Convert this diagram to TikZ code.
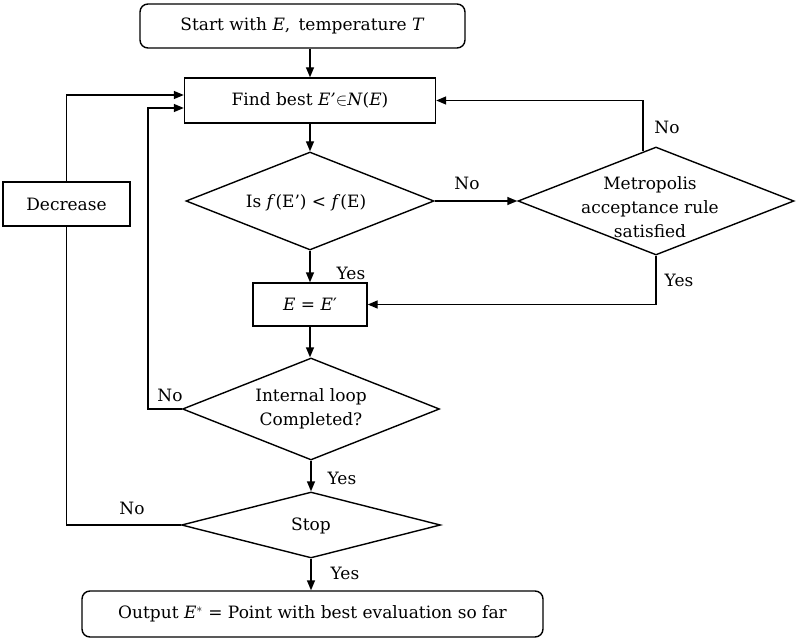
\documentclass[tikz,border=0pt]{standalone}
\usepackage{fontspec}
\setmainfont{DejaVu Serif}
\usetikzlibrary{shapes.geometric,arrows.meta,calc}
\begin{document}
\begin{tikzpicture}[x=1pt,y=-1pt,
  every node/.style={font=\fontsize{17}{24}\selectfont},
  box/.style={draw,line width=1.4pt,inner sep=0pt},
  rbox/.style={box,rounded corners=8pt},
  dia/.style={draw,diamond,line width=1.4pt,inner sep=0pt},
  txt/.style={align=center,inner sep=0pt},
  conn/.style={line width=1.4pt},
  arr/.style={conn,-{Triangle[length=10pt,width=8pt]}},
  lbl/.style={inner sep=0pt}]
\useasboundingbox (0,0) rectangle (797,639);

% nodes
\node[rbox,minimum width=325pt,minimum height=44pt] (start) at (302.5,26) {Start with \textit{E},\, temperature \textit{T}};
\node[box,minimum width=251pt,minimum height=45pt] (find) at (310,100.5) {Find best \textit{E’}$\in$\textit{N}(\textit{E})};
\node[dia,minimum width=248pt,minimum height=98pt] (d1) at (310,201) {};
\node[txt] (d1t) at (306,203) {Is \textit{f}(E’) < \textit{f}(E)};
\node[dia,minimum width=276pt,minimum height=108pt] (metro) at (656,201) {};
\node[txt] (metrot) at (650,207) {Metropolis\\acceptance rule\\satisfied};
\node[box,minimum width=114pt,minimum height=43pt] (eq) at (310,304.5) {\textit{E} = \textit{E}′};
\node[dia,minimum width=257pt,minimum height=102pt] (d3) at (311,409) {};
\node[txt] (d3t) at (311,409) {Internal loop\\Completed?};
\node[dia,minimum width=259pt,minimum height=66pt] (stop) at (311,525) {};
\node[txt] (stopt) at (311,526) {Stop};
\node[rbox,minimum width=461pt,minimum height=46pt] (out) at (312.5,614) {Output \textit{E}$^{*}$ = Point with best evaluation so far};
\node[box,minimum width=127pt,minimum height=44pt] (dec) at (66.5,204) {Decrease};

% connectors
\draw[arr] (start.south -| find.north) -- (find.north);
\draw[arr] (find.south) -- (find.south |- d1.north);
\draw[arr] (d1.east) -- (metro.west);
\coordinate (mno) at ($(metro.north)!0.094!(metro.west)$);
\draw[arr] (mno) |- (find.east);
\draw[arr] (metro.south) |- (eq.east);
\draw[arr] (d1.south) -- (d1.south |- eq.north);
\draw[arr] (eq.south) -- (eq.south |- d3.north);
\coordinate (inA) at ($(find.west)+(0,7.5)$);
\coordinate (inB) at ($(find.west)+(0,-5.5)$);
\draw[arr] (d3.west) -- (148,409) |- (inA);
\draw[arr] (dec.north) |- (inB);
\draw[conn] (stop.west) -| (dec.south);
\draw[arr] (d3.south) -- (d3.south |- stop.north);
\draw[arr] (stop.south) -- (stop.south |- out.north);

% labels
\node[lbl] (l1) at (467,183) {No};
\node[lbl] (l2) at (667,127) {No};
\node[lbl] (l3) at (679,280) {Yes};
\node[lbl] (l4) at (351,273) {Yes};
\node[lbl] (l5) at (170,395) {No};
\node[lbl] (l6) at (342,478) {Yes};
\node[lbl] (l7) at (132,508) {No};
\node[lbl] (l8) at (345,573) {Yes};
\end{tikzpicture}
\end{document}
